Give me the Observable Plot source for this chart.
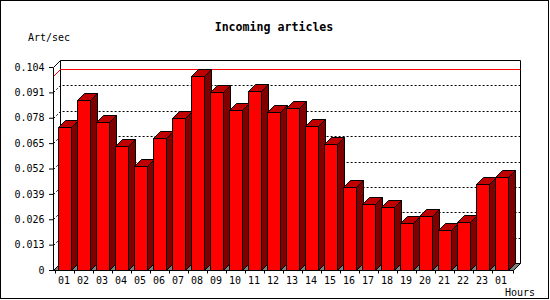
<!DOCTYPE html>
<html><head><meta charset="utf-8">
<script src="https://cdn.jsdelivr.net/npm/d3@7"></script>
<script src="https://cdn.jsdelivr.net/npm/@observablehq/plot@0.6"></script>
<style>
html,body{margin:0;padding:0;background:#fff;}
#chart{width:550px;height:300px;}
svg{display:block;}
</style></head><body><div id="chart"></div>
<script>
// ---- data ----
const hours = ["01","02","03","04","05","06","07","08","09","10","11","12","13","14","15","16","17","18","19","20","21","22","23","01"];
const rates = [0.0734,0.0871,0.0759,0.0635,0.0534,0.0677,0.0780,0.0995,0.0913,0.0821,0.0918,0.0811,0.0831,0.0739,0.0645,0.0426,0.0337,0.0323,0.0241,0.0277,0.0204,0.0245,0.0441,0.0477];
const yTicks = [0,0.013,0.026,0.039,0.052,0.065,0.078,0.091,0.104];
const yTickLabels = ["0","0.013","0.026","0.039","0.052","0.065","0.078","0.091","0.104"];
const title = "Incoming articles";
const yTitle = "Art/sec";
const xTitle = "Hours";

const DEPTH = 7;
const FRONT = "#ff0000", SIDE = "#800000", TOP = "#c00000", FLOOR = "#808080";

function scene(index, scales, values, dim) {
  const {x, y} = scales;
  const n = hours.length;
  const L = dim.marginLeft, R = dim.width - dim.marginRight;
  const B = dim.height - dim.marginBottom, T = y(yTicks[yTicks.length - 1]);
  const bw = x.bandwidth ? x.bandwidth() : (R - L) / n;
  const D = DEPTH;
  const r = v => Math.round(v) + 0.5;
  const g = d3.create("svg:g");
  // back wall
  g.append("path")
    .attr("d", `M${r(L+D)},${r(B-D)}V${r(T-D)}H${r(R+D)}V${r(B-D)}`)
    .attr("fill", "white").attr("stroke", "black");
  // left wall top edge
  g.append("path").attr("d", `M${r(L)},${r(T)}L${r(L+D)},${r(T-D)}`).attr("stroke", "black").attr("fill", "none");
  // grid lines (back wall + left wall diagonal)
  yTicks.slice(1, -1).forEach(t => {
    const yy = y(t);
    g.append("path")
      .attr("d", `M${r(L)},${r(yy)}L${r(L+D)},${r(yy-D)}H${r(R+D)}`)
      .attr("fill", "none").attr("stroke", "black").attr("stroke-dasharray", "2,2");
  });
  // max line
  const ym = y(d3.max(rates));
  g.append("path")
    .attr("d", `M${r(L)},${r(ym)}L${r(L+D)},${r(ym-D)}H${r(R+D)}`)
    .attr("fill", "none").attr("stroke", "#ff0000");
  // floor
  g.append("path")
    .attr("d", `M${r(L)},${r(B)}H${r(R)}L${r(R+D)},${r(B-D)}H${r(L+D)}Z`)
    .attr("fill", FLOOR).attr("stroke", "black");
  // bars
  index.forEach(i => {
    const xa = r(x(i) + bw * 0.18);
    const xb = r(x(i) + bw * 0.18 + bw * 0.64);
    const yt = r(y(rates[i]));
    const yb = r(B);
    g.append("path").attr("d", `M${xb},${yt}L${xb+D},${yt-D}V${yb-D}L${xb},${yb}Z`)
      .attr("fill", SIDE).attr("stroke", "black");
    g.append("path").attr("d", `M${xa},${yt}L${xa+D},${yt-D}H${xb+D}L${xb},${yt}Z`)
      .attr("fill", TOP).attr("stroke", "black");
    g.append("path").attr("d", `M${xa},${yt}H${xb}V${yb}H${xa}Z`)
      .attr("fill", FRONT).attr("stroke", "black");
  });
  // axis lines
  g.append("path").attr("d", `M${r(L)},${r(T)}V${r(B)}H${r(R)}`).attr("fill", "none").attr("stroke", "black");
  // x ticks at band boundaries
  for (let i = 0; i <= n; i++) {
    const xx = i < n ? x(i) : R;
    g.append("path").attr("d", `M${r(xx)},${r(B)}V${r(B)+3}`).attr("stroke", "black");
  }
  return g.node();
}

const plot = Plot.plot({
  width: 550, height: 300,
  marginLeft: 53, marginRight: 37, marginTop: 67, marginBottom: 30,
  style: {fontFamily: "'DejaVu Sans Mono', monospace", fontSize: "10px", color: "black", background: "white"},
  x: {type: "band", domain: d3.range(hours.length), padding: 0},
  y: {domain: [0, yTicks[yTicks.length - 1]]},
  marks: [
    Plot.barY(rates.map((v, i) => ({i, v})), {x: "i", y: "v", render: scene}),
    Plot.axisY({ticks: yTicks, tickFormat: d => yTickLabels[yTicks.indexOf(d)], tickSize: 4, tickPadding: 5, label: null}),
    Plot.axisX({tickSize: 0, tickPadding: 6, tickFormat: i => hours[i], label: null, dx: -1})
  ]
});

const svg = d3.select(plot);
svg.append("rect").attr("x", 0.5).attr("y", 0.5).attr("width", 548).attr("height", 298)
  .attr("fill", "none").attr("stroke", "black");
svg.append("text").attr("x", 274).attr("y", 31).attr("text-anchor", "middle")
  .attr("font-family", "'DejaVu Sans Mono', monospace").attr("font-weight", "bold").attr("font-size", "11.6px")
  .attr("fill", "black").text(title);
svg.append("text").attr("x", 28).attr("y", 40.5).attr("text-anchor", "start")
  .attr("font-family", "'DejaVu Sans Mono', monospace").attr("font-size", "10px")
  .attr("fill", "black").text(yTitle);
svg.append("text").attr("x", 535).attr("y", 296).attr("text-anchor", "end")
  .attr("font-family", "'DejaVu Sans Mono', monospace").attr("font-size", "10px")
  .attr("fill", "black").text(xTitle);

document.getElementById("chart").appendChild(plot);
</script>
</body></html>
